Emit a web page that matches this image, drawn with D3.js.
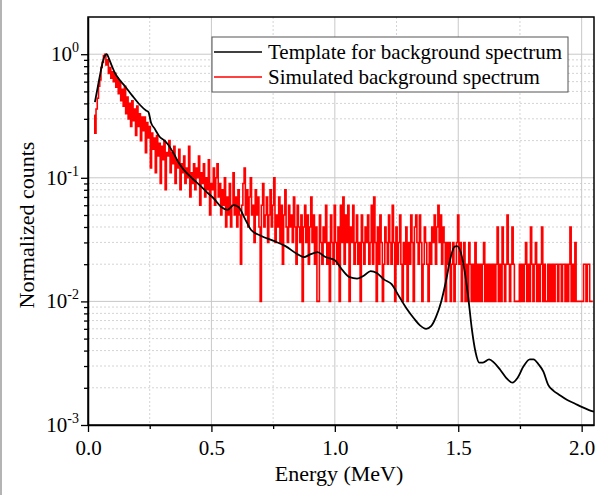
<!DOCTYPE html>
<html>
<head>
<meta charset="utf-8">
<script src="https://cdn.jsdelivr.net/npm/d3@7"></script>
<style>
  body { margin: 0; background: #fff; }
  svg { display: block; font-family: "Liberation Serif", "Times New Roman", serif; }
  .grid-major line { stroke: #c8c8c8; stroke-width: 1; }
  .grid-minor line { stroke: #d4d4d4; stroke-width: 1; stroke-dasharray: 2 2; }
</style>
</head>
<body>
<svg id="chart" width="603" height="495"></svg>
<script>
// template curve (MeV, normalized counts)
const templateE = [0.028, 0.04, 0.05, 0.06, 0.068, 0.076, 0.085, 0.097, 0.11, 0.12, 0.15, 0.18, 0.21, 0.235, 0.245, 0.255, 0.27, 0.29, 0.31, 0.325, 0.345, 0.37, 0.39, 0.42, 0.45, 0.48, 0.51, 0.54, 0.565, 0.59, 0.61, 0.635, 0.66, 0.7, 0.75, 0.8, 0.85, 0.875, 0.9, 0.93, 0.96, 1.0, 1.03, 1.06, 1.09, 1.12, 1.145, 1.17, 1.2, 1.23, 1.26, 1.29, 1.32, 1.345, 1.37, 1.39, 1.41, 1.43, 1.45, 1.47, 1.485, 1.495, 1.51, 1.525, 1.54, 1.555, 1.57, 1.585, 1.6, 1.625, 1.645, 1.67, 1.695, 1.72, 1.74, 1.765, 1.79, 1.805, 1.825, 1.845, 1.865, 1.885, 1.91, 1.94, 1.97, 2.0, 2.03, 2.05];
const templateY = [0.41, 0.55, 0.7, 0.87, 0.97, 1.0, 0.92, 0.8, 0.7, 0.65, 0.55, 0.46, 0.39, 0.35, 0.34, 0.28, 0.25, 0.215, 0.2, 0.185, 0.16, 0.13, 0.115, 0.1, 0.088, 0.077, 0.068, 0.058, 0.055, 0.06, 0.058, 0.047, 0.038, 0.034, 0.031, 0.028, 0.024, 0.0228, 0.024, 0.025, 0.023, 0.0215, 0.018, 0.0157, 0.0153, 0.0163, 0.0176, 0.017, 0.015, 0.0138, 0.011, 0.0088, 0.0073, 0.0064, 0.006, 0.0063, 0.0075, 0.0098, 0.0145, 0.023, 0.0278, 0.028, 0.025, 0.018, 0.011, 0.006, 0.0039, 0.0032, 0.0032, 0.0034, 0.0032, 0.0028, 0.0024, 0.0022, 0.0024, 0.003, 0.0034, 0.0034, 0.0031, 0.0027, 0.0021, 0.0019, 0.00175, 0.0016, 0.0015, 0.0014, 0.00132, 0.00128];

// simulated spectrum: counts per 0.005 MeV bin, first bin at 0.025 MeV
const simStart = 0.025;
const simStep = 0.005;
const simCounts = [
  32, 23, 36, 44, 55, 62, 78, 86, 97, 100, 82, 90, 70, 78, 64, 72, 60, 70, 54, 64,
  48, 60, 42, 52, 38, 55, 33, 45, 30, 40, 26, 42, 29, 36, 22, 38, 26, 33, 20, 31,
  24, 31, 16, 28, 21, 26, 12, 23, 17, 21, 11, 22, 15, 19, 9, 18, 14, 20, 8, 16,
  15, 20, 11, 16, 13, 18, 9, 14, 12, 17, 8, 13, 11, 15, 9, 12, 10, 18, 7, 11,
  9, 13, 8, 12, 10, 15, 6, 11, 9, 13, 7, 10, 8, 14, 5, 9, 8, 12, 6, 10,
  13, 7, 9, 5, 8, 6, 10, 4, 7, 5, 9, 4, 6, 11, 5, 7, 4, 8, 5, 2,
  6, 9, 12, 5, 8, 4, 7, 10, 5, 6, 3, 8, 5, 7, 4, 1, 6, 9, 4, 5,
  7, 3, 5, 8, 4, 6, 10, 3, 5, 4, 7, 3, 6, 2, 5, 8, 4, 3, 6, 4,
  5, 3, 7, 4, 2, 6, 4, 3, 5, 1, 4, 6, 3, 5, 2, 4, 7, 3, 5, 2,
  4, 1, 1, 5, 3, 2, 4, 3, 6, 2, 3, 1, 5, 3, 2, 6, 3, 2, 4, 1,
  6, 3, 7, 2, 5, 3, 6, 1, 4, 3, 6, 2, 3, 5, 2, 3, 1, 5, 3, 2,
  4, 3, 5, 2, 3, 6, 2, 7, 3, 1, 4, 2, 5, 3, 1, 2, 4, 3, 2, 5,
  3, 2, 6, 3, 1, 4, 2, 3, 5, 2, 1, 3, 2, 4, 1, 3, 2, 5, 3, 1,
  4, 5, 3, 2, 5, 3, 1, 2, 4, 3, 2, 1, 3, 2, 4, 3, 5, 2, 4, 6,
  3, 5, 2, 4, 3, 1, 3, 2, 3, 1, 2, 3, 1, 2, 3, 5, 2, 3, 1, 2,
  3, 1, 2, 1, 3, 2, 1, 2, 1, 3, 1, 2, 1, 2, 1, 2, 3, 1, 2, 1,
  2, 1, 2, 1, 2, 1, 2, 4, 1, 2, 1, 4, 2, 1, 2, 5, 2, 1, 2, 4,
  2, 1, 1, 1, 1, 2, 1, 2, 1, 2, 3, 1, 2, 1, 4, 2, 1, 2, 3, 1,
  2, 1, 2, 4, 1, 2, 1, 1, 2, 1, 2, 1, 2, 1, 2, 2, 1, 2, 2, 1,
  2, 2, 1, 2, 1, 2, 4, 1, 2, 1, 3, 1, 1, 1, 1, 1, 1, 2, 2, 1,
  2, 2, 1, 1, 1
];

const xTicks = [0, 0.5, 1.0, 1.5, 2.0];
const xMinorTicks = [0.25, 0.75, 1.25, 1.75];
const yTicks = [1e-3, 1e-2, 1e-1, 1];
const yTickExp = ['-3', '-2', '-1', '0'];

const legendLabels = ['Template for background spectrum', 'Simulated background spectrum'];
const legendColors = ['#000', '#ff0000'];

const margin = { top: 17, right: 9, bottom: 70, left: 88 };
const width = 603 - margin.left - margin.right;
const height = 495 - margin.top - margin.bottom;

const svg = d3.select('#chart');

// grey edge on the left of the picture
svg.append('line')
  .attr('x1', 1).attr('x2', 1).attr('y1', 0).attr('y2', 495)
  .attr('stroke', '#b4b4b4').attr('stroke-width', 2);

const g = svg.append('g').attr('transform', `translate(${margin.left},${margin.top})`);

const x = d3.scaleLinear().domain([0, 2.05]).range([0, width]);
const y = d3.scaleLog().domain([1e-3, 2]).range([height, 0]);

// minor y values 2..9 per decade
const yMinor = [];
yTicks.forEach((t) => {
  for (let k = 2; k <= 9; k++) {
    const v = t * k;
    if (v < 2) yMinor.push(v);
  }
});

// grid
g.append('g').attr('class', 'grid-minor')
  .selectAll('line.v').data(xMinorTicks).join('line')
  .attr('x1', (d) => x(d)).attr('x2', (d) => x(d)).attr('y1', 0).attr('y2', height);
g.append('g').attr('class', 'grid-minor')
  .selectAll('line.h').data(yMinor).join('line')
  .attr('y1', (d) => y(d)).attr('y2', (d) => y(d)).attr('x1', 0).attr('x2', width);
g.append('g').attr('class', 'grid-major')
  .selectAll('line').data(xTicks.slice(1)).join('line')
  .attr('x1', (d) => x(d)).attr('x2', (d) => x(d)).attr('y1', 0).attr('y2', height);
g.append('g').attr('class', 'grid-major')
  .selectAll('line').data(yTicks.slice(1)).join('line')
  .attr('y1', (d) => y(d)).attr('y2', (d) => y(d)).attr('x1', 0).attr('x2', width);

// data
g.append('clipPath').attr('id', 'plotclip')
  .append('rect').attr('width', width).attr('height', height);

const simData = simCounts.map((c, i) => ({ e: simStart + i * simStep, v: c / d3.max(simCounts) }));
const simLine = d3.line()
  .x((d) => x(d.e))
  .y((d) => y(d.v))
  .curve(d3.curveStep);

g.append('path')
  .datum(simData)
  .attr('clip-path', 'url(#plotclip)')
  .attr('fill', 'none')
  .attr('stroke', '#ff0000')
  .attr('stroke-width', 1.6)
  .attr('d', simLine);

const tplData = templateE.map((e, i) => ({ e, v: templateY[i] }));
const tplLine = d3.line()
  .x((d) => x(d.e))
  .y((d) => y(d.v))
  .curve(d3.curveMonotoneX);

g.append('path')
  .datum(tplData)
  .attr('clip-path', 'url(#plotclip)')
  .attr('fill', 'none')
  .attr('stroke', '#000')
  .attr('stroke-width', 1.8)
  .attr('d', tplLine);

// axes
const xAxis = g.append('g').attr('transform', `translate(0,${height})`)
  .call(d3.axisBottom(x).tickValues(xTicks).tickFormat(d3.format('.1f')).tickSize(7).tickSizeOuter(0));
g.append('g').attr('transform', `translate(0,${height})`)
  .call(d3.axisBottom(x).tickValues(xMinorTicks).tickFormat('').tickSize(4).tickSizeOuter(0))
  .select('.domain').remove();

xAxis.selectAll('text')
  .attr('font-size', 21)
  .attr('font-family', '"Liberation Serif", serif')
  .attr('fill', '#000')
  .attr('dy', '0.71em')
  .attr('y', 15);

g.append('g')
  .call(d3.axisLeft(y).tickValues(yTicks).tickFormat('').tickSize(7).tickSizeOuter(0));
g.append('g')
  .call(d3.axisLeft(y).tickValues(yMinor).tickFormat('').tickSize(4).tickSizeOuter(0))
  .select('.domain').remove();

g.selectAll('.domain').attr('stroke', '#000').attr('stroke-width', 1.5);
g.selectAll('.tick line').attr('stroke', '#000').attr('stroke-width', 1.3);

// y labels: 10 with superscript exponent
const yLab = g.append('g').selectAll('text').data(yTicks).join('text')
  .attr('x', -9)
  .attr('y', (d) => y(d) + 7)
  .attr('text-anchor', 'end')
  .attr('font-size', 21)
  .attr('fill', '#000');
yLab.append('tspan').text('10');
yLab.append('tspan')
  .attr('font-size', 14)
  .attr('dy', -9)
  .text((d, i) => yTickExp[i]);

// frame
g.append('rect')
  .attr('width', width).attr('height', height)
  .attr('fill', 'none').attr('stroke', '#000').attr('stroke-width', 1.5);

// titles
svg.append('text')
  .attr('x', margin.left + width / 2 - 2)
  .attr('y', 481)
  .attr('text-anchor', 'middle')
  .attr('font-size', 22)
  .text('Energy (MeV)');

svg.append('text')
  .attr('transform', `translate(34,${margin.top + height / 2 + 4}) rotate(-90)`)
  .attr('text-anchor', 'middle')
  .attr('font-size', 22)
  .text('Normalized counts');

// legend
const legend = svg.append('g').attr('transform', 'translate(212,37)');
legend.append('rect')
  .attr('width', 356).attr('height', 55)
  .attr('fill', '#fff').attr('stroke', '#555').attr('stroke-width', 1);

const rows = legend.selectAll('g.row').data(legendLabels).join('g')
  .attr('transform', (d, i) => `translate(0,${15 + i * 25})`);
rows.append('line')
  .attr('x1', 2).attr('x2', 50).attr('y1', 0).attr('y2', 0)
  .attr('stroke', (d, i) => legendColors[i]).attr('stroke-width', 1.6);
rows.append('text')
  .attr('x', 56).attr('y', 7)
  .attr('font-size', 21)
  .text((d) => d);
</script>
</body>
</html>
